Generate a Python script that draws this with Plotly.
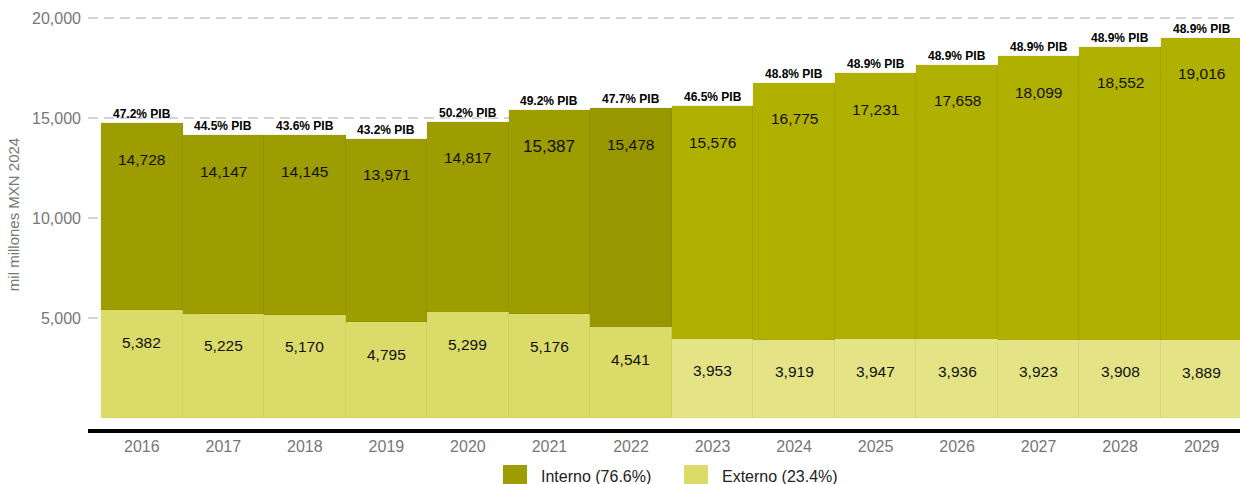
import plotly.graph_objects as go

# ---- data ----
years = [2016, 2017, 2018, 2019, 2020, 2021, 2022, 2023, 2024, 2025, 2026, 2027, 2028, 2029]
total = [14728, 14147, 14145, 13971, 14817, 15387, 15478, 15576, 16775, 17231, 17658, 18099, 18552, 19016]
externo = [5382, 5225, 5170, 4795, 5299, 5176, 4541, 3953, 3919, 3947, 3936, 3923, 3908, 3889]
pib_pct = [47.2, 44.5, 43.6, 43.2, 50.2, 49.2, 47.7, 46.5, 48.8, 48.9, 48.9, 48.9, 48.9, 48.9]
series_names = ["Interno (76.6%)", "Externo (23.4%)"]
first_projected_year = 2023
y_ticks = [5000, 10000, 15000, 20000]

interno = [t - e for t, e in zip(total, externo)]

# ---- styles ----
C_INT_HIST, C_INT_HIST2, C_INT_PROJ = "#9d9c00", "#989700", "#b0b000"
C_EXT_HIST, C_EXT_PROJ = "#dbdb6a", "#e4e487"

int_colors = []
ext_colors = []
for y in years:
    if y >= first_projected_year:
        int_colors.append(C_INT_PROJ)
        ext_colors.append(C_EXT_PROJ)
    else:
        int_colors.append(C_INT_HIST2 if y == first_projected_year - 1 else C_INT_HIST)
        ext_colors.append(C_EXT_HIST)

FONT = "Liberation Sans, Arial, Helvetica, sans-serif"

fig = go.Figure()
fig.add_trace(go.Bar(
    x=years, y=externo, name=series_names[1], width=1,
    marker=dict(color=ext_colors, line=dict(width=0.6, color="rgba(150,150,0,0.12)")),
    showlegend=False, hoverinfo="skip"))
fig.add_trace(go.Bar(
    x=years, y=interno, name=series_names[0], width=1,
    marker=dict(color=int_colors, line=dict(width=0.6, color="rgba(90,90,0,0.12)")),
    showlegend=False, hoverinfo="skip"))

annotations = []
for yr, t, e, p in zip(years, total, externo, pib_pct):
    annotations.append(dict(
        x=yr, y=t, xref="x", yref="y", text=f"<b>{p:.1f}% PIB</b>", showarrow=False,
        yanchor="bottom", yshift=0, font=dict(family=FONT, size=12, color="#000")))
    annotations.append(dict(
        x=yr, y=t, xref="x", yref="y", text=f"{t:,}", showarrow=False,
        yanchor="middle", yshift=-36,
        font=dict(family=FONT, size=17 if yr == 2021 else 15.5, color="#111")))
    annotations.append(dict(
        x=yr, y=e, xref="x", yref="y", text=f"{e:,}", showarrow=False,
        yanchor="middle", yshift=-32, font=dict(family=FONT, size=15.5, color="#111")))

# custom legend (paper coordinates)
W_PLOT, H_PLOT, L = 1152.0, 429.0, 88.0
def px(xp):
    return (xp - L) / W_PLOT
def py(yp):
    return (H_PLOT - yp) / H_PLOT

shapes = []
legend_items = [(503, series_names[0], C_INT_HIST), (684, series_names[1], C_EXT_HIST)]
for x0, name, col in legend_items:
    shapes.append(dict(type="rect", xref="paper", yref="paper",
                       x0=px(x0), x1=px(x0 + 24), y0=py(489), y1=py(465),
                       fillcolor=col, line=dict(width=0)))
    annotations.append(dict(x=px(x0 + 36), y=py(476), xref="paper", yref="paper",
                            text=name, showarrow=False, xanchor="left", yanchor="middle",
                            font=dict(family=FONT, size=16, color="#222")))

fig.update_layout(
    width=1240, height=484,
    margin=dict(l=88, r=0, t=0, b=55),
    paper_bgcolor="white", plot_bgcolor="white",
    barmode="stack", bargap=0,
    font=dict(family=FONT, size=16, color="#777"),
    annotations=annotations, shapes=shapes,
    showlegend=False,
)
fig.update_xaxes(
    range=[2015.34, 2029.47], tickmode="array", tickvals=years,
    ticktext=[str(y) for y in years], showgrid=False, zeroline=False,
    showline=True, linecolor="black", linewidth=4,
    tickfont=dict(family=FONT, size=16, color="#777"), ticks="", ticklen=0,
)
fig.update_yaxes(
    range=[-550, 20900], tickmode="array", tickvals=y_ticks,
    ticktext=[f"{v:,}" for v in y_ticks],
    showgrid=True, gridcolor="#d4d4d4", gridwidth=2, griddash="10px,6px",
    zeroline=False, showline=False, ticks="", ticklabelstandoff=6,
    tickfont=dict(family=FONT, size=16, color="#777"),
    title=dict(text="mil millones MXN 2024", font=dict(family=FONT, size=15, color="#777"), standoff=8),
)

fig.write_html("out.html", config={"displayModeBar": False},
               post_script="document.body.style.margin='0';document.body.style.overflow='hidden';")
